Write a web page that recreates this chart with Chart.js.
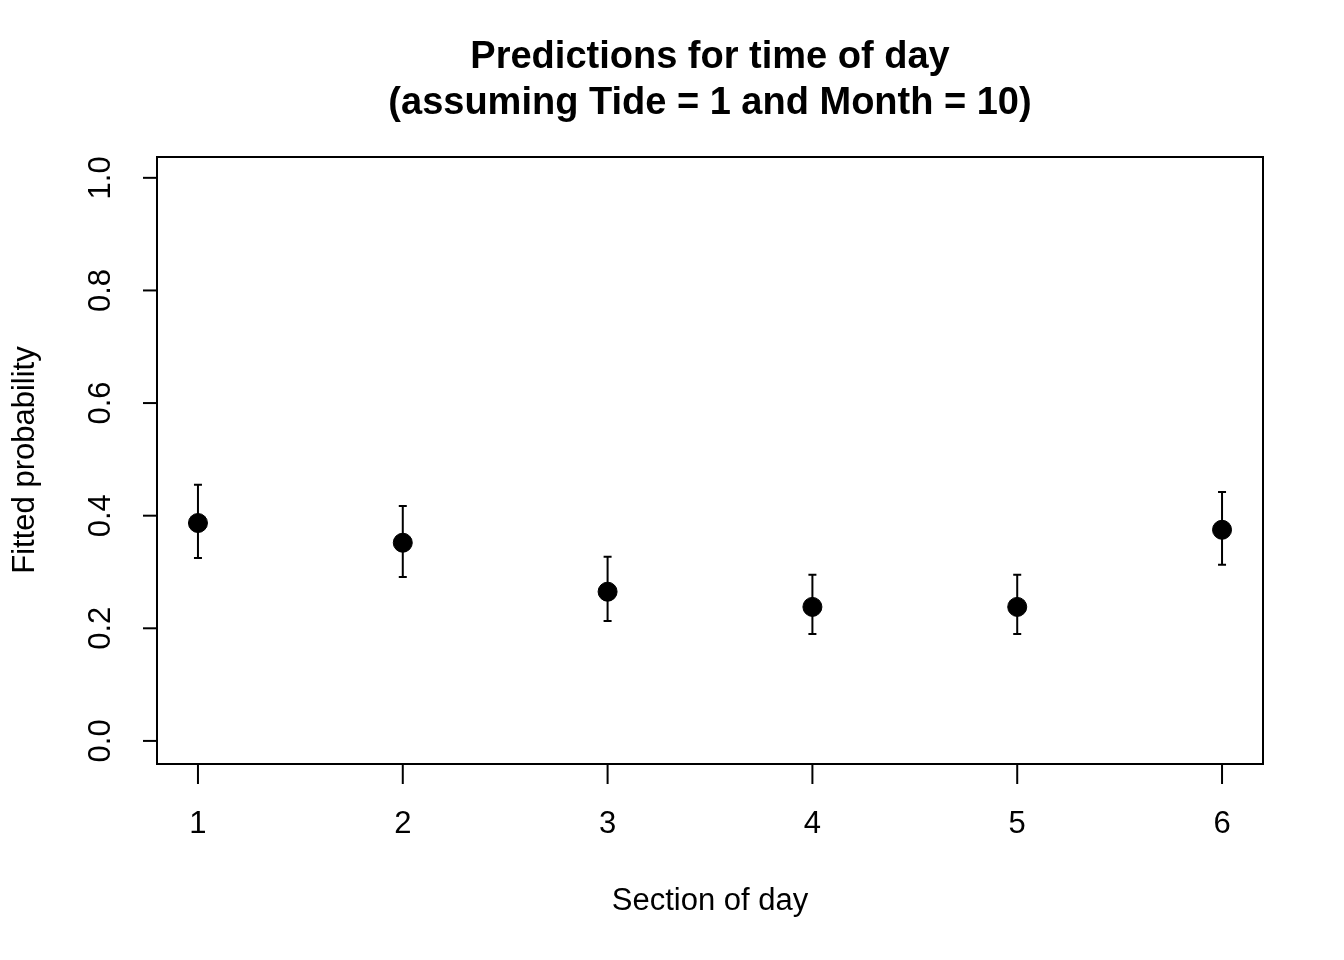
<!DOCTYPE html>
<html>
<head>
<script src="https://cdn.jsdelivr.net/npm/chart.js@4"></script>
<style>body{margin:0;background:#fff}</style>
</head>
<body>
<canvas id="c" width="1344" height="960"></canvas>
<script>
const sections = [1, 2, 3, 4, 5, 6];
const fitted = [0.387, 0.352, 0.265, 0.238, 0.238, 0.375];
const upper = [0.455, 0.417, 0.327, 0.295, 0.295, 0.442];
const lower = [0.325, 0.291, 0.213, 0.190, 0.190, 0.313];
const yTicks = [0, 0.2, 0.4, 0.6, 0.8, 1.0];
const font = '"Liberation Sans", Arial, sans-serif';

const basePlot = {
  id: 'basePlot',
  afterDraw(chart) {
    const { ctx, chartArea: a, scales: { x, y } } = chart;
    ctx.save();
    ctx.strokeStyle = '#000';
    ctx.fillStyle = '#000';
    ctx.lineWidth = 2;
    ctx.strokeRect(a.left, a.top, a.right - a.left, a.bottom - a.top);

    // error bars
    sections.forEach((s, i) => {
      const px = x.getPixelForValue(s);
      const top = y.getPixelForValue(upper[i]);
      const bot = y.getPixelForValue(lower[i]);
      ctx.beginPath();
      ctx.moveTo(px, top); ctx.lineTo(px, bot);
      ctx.moveTo(px - 4, top); ctx.lineTo(px + 4, top);
      ctx.moveTo(px - 4, bot); ctx.lineTo(px + 4, bot);
      ctx.stroke();
    });

    // x axis
    ctx.font = '31px ' + font;
    ctx.textAlign = 'center';
    ctx.textBaseline = 'middle';
    sections.forEach(s => {
      const px = x.getPixelForValue(s);
      ctx.beginPath(); ctx.moveTo(px, a.bottom); ctx.lineTo(px, a.bottom + 20); ctx.stroke();
      ctx.fillText(String(s), px, 824);
    });

    // y axis
    yTicks.forEach(t => {
      const py = y.getPixelForValue(t);
      ctx.beginPath(); ctx.moveTo(a.left, py); ctx.lineTo(a.left - 14, py); ctx.stroke();
      ctx.save();
      ctx.translate(101, py);
      ctx.rotate(-Math.PI / 2);
      ctx.fillText(t.toFixed(1), 0, 0);
      ctx.restore();
    });

    ctx.fillText('Section of day', 710, 901);
    ctx.save();
    ctx.translate(25, 460);
    ctx.rotate(-Math.PI / 2);
    ctx.fillText('Fitted probability', 0, 0);
    ctx.restore();

    ctx.font = 'bold 38px ' + font;
    ctx.fillText('Predictions for time of day', 710, 58);
    ctx.fillText('(assuming Tide = 1 and Month = 10)', 710, 104);
    ctx.restore();
  }
};

new Chart(document.getElementById('c'), {
  type: 'scatter',
  data: {
    datasets: [{
      data: sections.map((s, i) => ({ x: s, y: fitted[i] })),
      backgroundColor: '#000',
      borderColor: '#000',
      pointRadius: 9.5,
    }],
  },
  options: {
    responsive: false,
    devicePixelRatio: 1,
    animation: false,
    layout: { padding: { left: 157, right: 81, top: 157, bottom: 196 } },
    plugins: { legend: { display: false }, tooltip: { enabled: false } },
    scales: {
      x: { display: false, min: 0.8, max: 6.2 },
      y: { display: false, min: -0.041, max: 1.037 },
    },
  },
  plugins: [basePlot],
});
</script>
</body>
</html>
